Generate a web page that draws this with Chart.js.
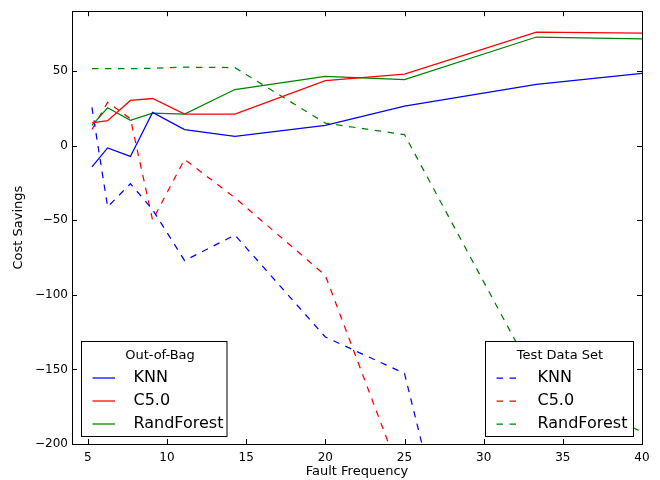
<!DOCTYPE html>
<html>
<head>
<meta charset="utf-8">
<script src="https://cdn.jsdelivr.net/npm/chart.js@4.4.1/dist/chart.umd.min.js"></script>
<style>
  html, body { margin: 0; padding: 0; background: #fff; }
  #wrap { width: 660px; height: 480px; }
</style>
</head>
<body>
<div id="wrap"><canvas id="myChart" width="660" height="480"></canvas></div>
<script>
// Fault frequency values on the x axis
var faultFreq = [5.26, 6.25, 7.69, 9.09, 11.11, 14.29, 20, 25, 33.33, 40];

// Out-of-bag cost savings
var oobKnn = [-14.3, -1.6, -7.3, 22.2, 10.7, 6.2, 13.5, 26.4, 41, 48.4];
var oobC50 = [15.1, 16.7, 30.2, 31.5, 21.1, 21.1, 43.5, 47.8, 76, 75.3];
var oobRandForest = [13.5, 25.3, 16.9, 21.7, 21.1, 37.5, 46.4, 44.2, 72.7, 71.5];

// Test data set cost savings (the tail runs off the bottom of the plot)
var testKnn = [25.5, -41.1, -25.6, -43, -77.1, -60, -128.3, -152.7, -510, -450];
var testC50 = [10.7, 28.9, 18, -50, -9.3, -35, -87, -228, -400, -450];
var testRandForest = [51.5, 51.5, 51.5, 51.7, 52.5, 52.2, 15, 7.3, -157, -192];

var xTicks = [5, 10, 15, 20, 25, 30, 35, 40];
var yTicks = [-200, -150, -100, -50, 0, 50];

var legendTitles = ['Out-of-Bag', 'Test Data Set'];

function points(values) {
  var out = [];
  for (var i = 0; i < faultFreq.length; i++) {
    out.push({x: faultFreq[i], y: values[i]});
  }
  return out;
}

function series(label, values, color, group) {
  return {
    label: label,
    data: points(values),
    borderColor: color,
    backgroundColor: color,
    borderWidth: 1.25,
    borderDash: group === 1 ? [6.5, 6.5] : [],
    pointRadius: 0,
    showLine: true,
    tension: 0,
    fill: false,
    group: group
  };
}

// Draws the frame, inward ticks on all four sides and the two legend boxes
var mplStyle = {
  id: 'mplStyle',
  afterDatasetsDraw: function(chart) {
    var ctx = chart.ctx, a = chart.chartArea;
    var xs = chart.scales.x, ys = chart.scales.y;
    var i, p;
    ctx.save();
    ctx.strokeStyle = '#000';
    ctx.lineWidth = 1;
    ctx.setLineDash([]);
    ctx.beginPath();
    for (i = 0; i < xTicks.length; i++) {
      p = Math.round(xs.getPixelForValue(xTicks[i])) + 0.5;
      ctx.moveTo(p, a.bottom); ctx.lineTo(p, a.bottom - 5);
      ctx.moveTo(p, a.top); ctx.lineTo(p, a.top + 5);
    }
    for (i = 0; i < yTicks.length; i++) {
      p = Math.round(ys.getPixelForValue(yTicks[i])) + 0.5;
      ctx.moveTo(a.left, p); ctx.lineTo(a.left + 5, p);
      ctx.moveTo(a.right, p); ctx.lineTo(a.right - 5, p);
    }
    ctx.stroke();
    ctx.strokeRect(Math.round(a.left) + 0.5, Math.round(a.top) + 0.5,
      Math.round(a.right - a.left), Math.round(a.bottom - a.top));

    drawLegend(chart, 0, 81.5, 341.5, 145.5, 95, 160);
    drawLegend(chart, 1, 485.5, 341.5, 148, 95, 560);
    ctx.restore();
  }
};

function drawLegend(chart, group, x, y, w, h, titleX) {
  var ctx = chart.ctx;
  var sets = chart.data.datasets.filter(function(d) { return d.group === group; });
  ctx.fillStyle = '#fff';
  ctx.fillRect(x, y, w, h);
  ctx.strokeStyle = '#000';
  ctx.lineWidth = 1;
  ctx.setLineDash([]);
  ctx.strokeRect(x, y, w, h);
  ctx.fillStyle = '#000';
  ctx.textBaseline = 'middle';
  ctx.textAlign = 'center';
  ctx.font = '13px "DejaVu Sans"';
  ctx.fillText(legendTitles[group], titleX, y + 14);
  ctx.textAlign = 'left';
  ctx.font = '16px "DejaVu Sans"';
  for (var i = 0; i < sets.length; i++) {
    var ly = Math.round(y + 36 + i * 23.3);
    ctx.strokeStyle = sets[i].borderColor;
    ctx.lineWidth = 1.25;
    ctx.setLineDash(sets[i].borderDash);
    ctx.beginPath();
    ctx.moveTo(x + 11, ly);
    ctx.lineTo(x + 33.5, ly);
    ctx.stroke();
    ctx.fillText(sets[i].label, x + 52, ly);
  }
  ctx.setLineDash([]);
}

function minusSign(v) {
  return String(v).replace('-', '\u2212');
}

Chart.defaults.font.family = '"DejaVu Sans"';
Chart.defaults.color = '#000';

var ctx = document.getElementById('myChart').getContext('2d');
var myChart = new Chart(ctx, {
  type: 'scatter',
  data: {
    datasets: [
      series('KNN', oobKnn, '#0000ff', 0),
      series('C5.0', oobC50, '#ff0000', 0),
      series('RandForest', oobRandForest, '#008000', 0),
      series('KNN', testKnn, '#0000ff', 1),
      series('C5.0', testC50, '#ff0000', 1),
      series('RandForest', testRandForest, '#008000', 1)
    ]
  },
  options: {
    responsive: false,
    animation: false,
    layout: { padding: { left: 0, right: 18, top: 9, bottom: 0 } },
    plugins: {
      legend: { display: false },
      tooltip: { enabled: false }
    },
    scales: {
      x: {
        type: 'linear',
        min: 4,
        max: 40,
        grid: { display: false, drawTicks: false },
        border: { display: false },
        afterBuildTicks: function(scale) {
          scale.ticks = xTicks.map(function(v) { return {value: v}; });
        },
        afterFit: function(scale) { scale.height = 36; },
        ticks: { font: { size: 12 }, padding: 7, maxRotation: 0, autoSkip: false },
        title: { display: true, text: 'Fault Frequency', font: { size: 13 }, padding: { top: 0, bottom: 1 } }
      },
      y: {
        min: -200,
        max: 90,
        grid: { display: false, drawTicks: false },
        border: { display: false },
        afterBuildTicks: function(scale) {
          scale.ticks = yTicks.map(function(v) { return {value: v}; });
        },
        afterFit: function(scale) { scale.width = 72; },
        ticks: { font: { size: 12 }, padding: 4, autoSkip: false, callback: function(v) { return minusSign(v); } },
        title: { display: true, text: 'Cost Savings', font: { size: 13 }, padding: { top: 11, bottom: 0 } }
      }
    }
  },
  plugins: [mplStyle]
});
</script>
</body>
</html>
